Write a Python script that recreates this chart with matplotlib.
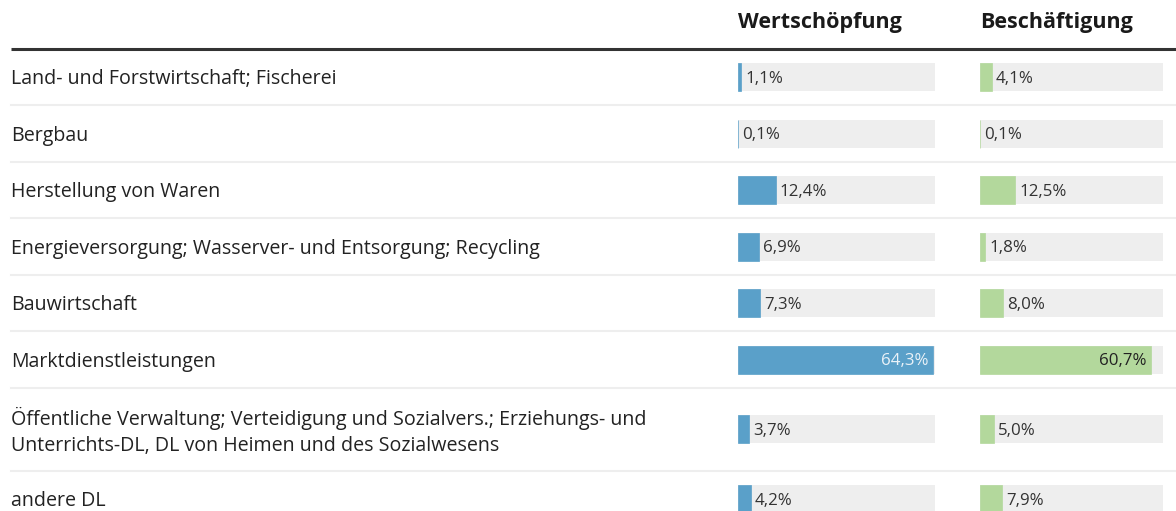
import matplotlib.pyplot as plt
import numpy as np

# data
sectors = [
    "Land- und Forstwirtschaft; Fischerei",
    "Bergbau",
    "Herstellung von Waren",
    "Energieversorgung; Wasserver- und Entsorgung; Recycling",
    "Bauwirtschaft",
    "Marktdienstleistungen",
    "Öffentliche Verwaltung; Verteidigung und Sozialvers.; Erziehungs- und\nUnterrichts-DL, DL von Heimen und des Sozialwesens",
    "andere DL",
]
wertschoepfung = [1.1, 0.1, 12.4, 6.9, 7.3, 64.3, 3.7, 4.2]
beschaeftigung = [4.1, 0.1, 12.5, 1.8, 8.0, 60.7, 5.0, 7.9]
columns = ["Wertschöpfung", "Beschäftigung"]

W, H = 1176, 511
plt.rcParams['font.family'] = ['Open Sans', 'DejaVu Sans']
fig = plt.figure(figsize=(W / 100, H / 100), dpi=100)

# background axes in pixel coordinates for the table layout
ax = fig.add_axes([0, 0, 1, 1])
ax.set_xlim(0, W)
ax.set_ylim(H, 0)
ax.axis('off')

# row layout (pixels)
top = 49
heights = [56.5 if "\n" not in s else 83 for s in sectors]
edges = top + np.concatenate([[0], np.cumsum(heights)])
centers = (edges[:-1] + edges[1:]) / 2

ax.plot([11, W], [49, 49], color='#333333', lw=2.2, solid_capstyle='butt')
for e in edges[1:-1]:
    ax.plot([11, W], [e, e], color='#eeeeee', lw=1.5)

for name, y in zip(sectors, centers):
    ax.text(11, y + 2, name, fontsize=14.1, color='#222222', va='center', ha='left',
            linespacing=1.38)

col_x = [738, 980]
col_w = [197, 183]
for title, x0 in zip(columns, col_x):
    ax.text(x0, 22.5, title, fontsize=15.5, fontweight='bold', color='#1a1a1a',
            va='center', ha='left')

series = [wertschoepfung, beschaeftigung]
colors = ['#5aa0c9', '#b3d89c']
inside_text = ['#eaf2f8', '#222222']
bar_h = 28
for vals, x0, w, c, tc in zip(series, col_x, col_w, colors, inside_text):
    bx = fig.add_axes([x0 / W, 0, w / W, 1])
    bx.set_xlim(0, 65)
    bx.set_ylim(H, 0)
    bx.axis('off')
    bx.barh(centers, [65] * len(vals), height=bar_h, color='#eeeeee')
    bx.barh(centers, vals, height=bar_h, color=c, edgecolor=c, linewidth=0.5)
    for v, y in zip(vals, centers):
        lab = f"{v:.1f}%".replace('.', ',')
        if v > 40:
            bx.annotate(lab, (v, y), xytext=(-3.5, -1), textcoords='offset points',
                        ha='right', va='center', fontsize=12.2, color=tc)
        else:
            bx.annotate(lab, (v, y), xytext=(3, -1), textcoords='offset points',
                        ha='left', va='center', fontsize=12.2, color='#333333')

fig.savefig('out.png', dpi=100)
